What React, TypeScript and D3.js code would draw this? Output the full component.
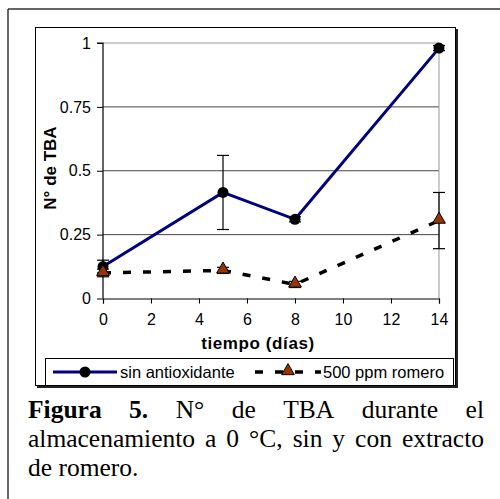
import React, { useEffect, useRef } from 'react';
import * as d3 from 'd3';

const dias = [0, 5, 8, 14];
const sinAntiox = [0.125, 0.415, 0.31, 0.98];
const sinAntioxErr = [0.025, 0.145, 0.01, 0.01];
const romero = [0.1, 0.11, 0.055, 0.305];
const romeroErr = [0.015, 0.012, 0.012, 0.11];
const xTicks = [0, 2, 4, 6, 8, 10, 12, 14];
const yTicks = [0, 0.25, 0.5, 0.75, 1];
const yTickLabels = ['0', '0.25', '0.5', '0.75', '1'];
const seriesNames = ['sin antioxidante', '500 ppm romero'];
const captionLines = [
  [{ t: 'Figura', b: true }, { t: '5.', b: true }, { t: 'N°' }, { t: 'de' }, { t: 'TBA' }, { t: 'durante' }, { t: 'el' }],
  [{ t: 'almacenamiento' }, { t: 'a' }, { t: '0' }, { t: '°C,' }, { t: 'sin' }, { t: 'y' }, { t: 'con' }, { t: 'extracto' }],
  [{ t: 'de' }, { t: 'romero.' }],
];

const App = () => {
  const ref = useRef<SVGSVGElement>(null);

  useEffect(() => {
    const svg = d3.select(ref.current);
    svg.selectAll('*').remove();
    const sans = 'Liberation Sans, Arial, sans-serif';
    const serif = 'Liberation Serif, Times New Roman, serif';

    // outer frame
    svg.append('line').attr('x1', 8).attr('y1', 9).attr('x2', 500).attr('y2', 9).attr('stroke', '#333').attr('stroke-width', 1.5);
    svg.append('line').attr('x1', 8).attr('y1', 9).attr('x2', 8).attr('y2', 499).attr('stroke', '#333').attr('stroke-width', 1.5);

    // chart box with shadow
    svg.append('rect').attr('x', 37).attr('y', 29).attr('width', 421).attr('height', 359).attr('fill', '#222');
    svg.append('rect').attr('x', 35.5).attr('y', 27.5).attr('width', 420).attr('height', 358).attr('fill', '#fff').attr('stroke', '#000');

    const x = d3.scaleLinear().domain([0, 14]).range([103, 439]);
    const y = d3.scaleLinear().domain([0, 1]).range([298.5, 43]);

    // grid
    svg.append('g').selectAll('line').data(yTicks.slice(1, 4)).enter().append('line')
      .attr('x1', 103).attr('x2', 439).attr('y1', d => y(d)).attr('y2', d => y(d))
      .attr('stroke', '#444').attr('stroke-width', 1);
    // top and right border gray
    svg.append('line').attr('x1', 103).attr('x2', 439).attr('y1', y(1)).attr('y2', y(1)).attr('stroke', '#999');
    svg.append('line').attr('x1', 439).attr('x2', 439).attr('y1', y(1)).attr('y2', y(0)).attr('stroke', '#999');

    // axes
    const yAxis = svg.append('g').attr('transform', 'translate(103,0)')
      .call(d3.axisLeft(y).tickValues(yTicks).tickSize(6).tickPadding(6).tickFormat((d, i) => yTickLabels[i]));
    const xAxis = svg.append('g').attr('transform', `translate(0,${y(0)})`)
      .call(d3.axisBottom(x).tickValues(xTicks).tickSize(5).tickPadding(10).tickFormat(d3.format('d')));
    [yAxis, xAxis].forEach(g => {
      g.select('.domain').attr('stroke', '#000').attr('stroke-width', 1.2);
      g.selectAll('.tick line').attr('stroke', '#000');
      g.selectAll('.tick text').attr('font-family', sans).attr('font-size', 16).attr('fill', '#000');
    });
    yAxis.select('.domain').attr('d', `M-6,${y(1)}H0V${y(0)}`);

    // axis titles
    svg.append('text').attr('x', 258).attr('y', 349).attr('text-anchor', 'middle')
      .attr('font-family', sans).attr('font-size', 17).attr('font-weight', 'bold').attr('letter-spacing', 0.6)
      .text('tiempo (días)');
    svg.append('text').attr('transform', 'translate(56,168) rotate(-90)').attr('text-anchor', 'middle')
      .attr('font-family', sans).attr('font-size', 17).attr('font-weight', 'bold')
      .text('N° de TBA');

    const sinData = dias.map((d, i) => ({ x: d, v: sinAntiox[i], e: sinAntioxErr[i] }));
    const romData = dias.map((d, i) => ({ x: d, v: romero[i], e: romeroErr[i] }));

    const line = d3.line<{ x: number; v: number }>().x(d => x(d.x)).y(d => y(d.v));
    svg.append('path').datum(romData).attr('d', line).attr('fill', 'none').attr('stroke', '#000')
      .attr('stroke-width', 3.5).attr('stroke-dasharray', '8,12');
    svg.append('path').datum(sinData).attr('d', line).attr('fill', 'none').attr('stroke', '#000080')
      .attr('stroke-width', 3);

    const errBars = (data: { x: number; v: number; e: number }[]) => {
      const g = svg.append('g').attr('stroke', '#000').attr('stroke-width', 1.2);
      data.forEach(d => {
        g.append('line').attr('x1', x(d.x)).attr('x2', x(d.x)).attr('y1', y(d.v - d.e)).attr('y2', y(d.v + d.e));
        g.append('line').attr('x1', x(d.x) - 6).attr('x2', x(d.x) + 6).attr('y1', y(d.v - d.e)).attr('y2', y(d.v - d.e));
        g.append('line').attr('x1', x(d.x) - 6).attr('x2', x(d.x) + 6).attr('y1', y(d.v + d.e)).attr('y2', y(d.v + d.e));
      });
    };
    errBars(sinData);
    errBars(romData);

    const tri = d3.symbol().type(d3.symbolTriangle).size(70);
    svg.append('g').selectAll('circle').data(sinData).enter().append('circle')
      .attr('cx', d => x(d.x)).attr('cy', d => y(d.v)).attr('r', 5.5).attr('fill', '#000');
    svg.append('g').selectAll('path').data(romData).enter().append('path')
      .attr('d', tri).attr('transform', d => `translate(${x(d.x)},${y(d.v) - 1})`)
      .attr('fill', '#993300').attr('stroke', '#000').attr('stroke-width', 1);

    // legend
    const lg = svg.append('g');
    lg.append('rect').attr('x', 45.5).attr('y', 358.5).attr('width', 408).attr('height', 27).attr('fill', '#fff').attr('stroke', '#000');
    const ly = 372;
    lg.append('line').attr('x1', 53).attr('x2', 117).attr('y1', ly).attr('y2', ly).attr('stroke', '#000080').attr('stroke-width', 3);
    lg.append('circle').attr('cx', 85).attr('cy', ly).attr('r', 5.5).attr('fill', '#000');
    lg.append('text').attr('x', 120).attr('y', ly + 6).attr('font-family', sans).attr('font-size', 16.5).text(seriesNames[0]);
    lg.append('line').attr('x1', 255).attr('x2', 321).attr('y1', ly).attr('y2', ly).attr('stroke', '#000')
      .attr('stroke-width', 3.5).attr('stroke-dasharray', '8,12').attr('stroke-dashoffset', 0);
    lg.append('path').attr('d', tri).attr('transform', `translate(288,${ly - 1})`).attr('fill', '#993300').attr('stroke', '#000');
    lg.append('text').attr('x', 323).attr('y', ly + 6).attr('font-family', sans).attr('font-size', 16.5).text(seriesNames[1]);

    // caption, justified
    const left = 28;
    const right = 484;
    const baselines = [418, 447, 475.5];
    captionLines.forEach((words, li) => {
      const nodes = words.map(w =>
        svg.append('text').attr('y', baselines[li]).attr('font-family', serif).attr('font-size', 25.5)
          .attr('font-weight', w.b ? 'bold' : 'normal').attr('fill', '#000').text(w.t));
      const widths = nodes.map(n => (n.node() as SVGTextElement).getComputedTextLength());
      const total = d3.sum(widths);
      const justify = li < captionLines.length - 1;
      const gap = justify ? (right - left - total) / (words.length - 1) : 6.4;
      let cx = left;
      nodes.forEach((n, i) => {
        n.attr('x', cx);
        cx += widths[i] + gap;
      });
    });
  }, []);

  return (
    <svg ref={ref} width={500} height={499} style={{ position: 'absolute', left: 0, top: 0, background: '#fff' }} />
  );
};

export default App;
